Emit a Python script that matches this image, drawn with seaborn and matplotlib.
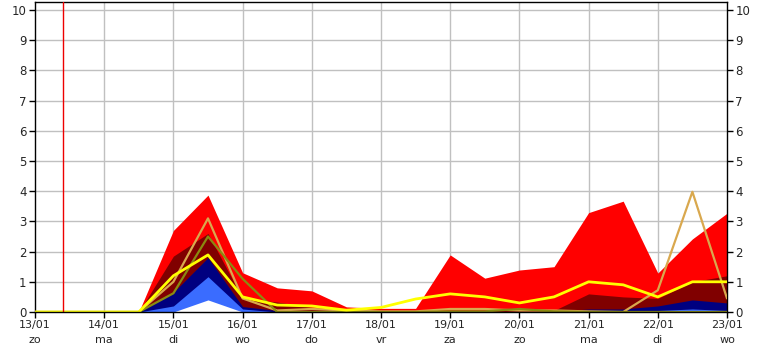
import numpy as np
import pandas as pd
import matplotlib
matplotlib.use("Agg")
import matplotlib.pyplot as plt
import seaborn as sns

# 12-hourly points from 13/01 00:00 to 23/01 00:00 (in days)
t = [i * 0.5 for i in range(21)]

red = [0, 0, 0, 0, 2.7, 3.87, 1.3, 0.8, 0.7, 0.17, 0.12, 0.12, 1.89, 1.12, 1.39, 1.5, 3.29, 3.67, 1.29, 2.42, 3.27]
maroon = [0, 0, 0, 0, 1.85, 2.6, 0.45, 0.33, 0.15, 0.05, 0.03, 0.03, 0.05, 0.05, 0.1, 0.05, 0.6, 0.5, 0.45, 1.0, 1.2]
navy = [0, 0, 0, 0, 0.65, 1.8, 0.18, 0.05, 0.02, 0, 0, 0, 0, 0, 0, 0.02, 0.1, 0.1, 0.2, 0.4, 0.3]
blue = [0, 0, 0, 0, 0.2, 1.17, 0.1, 0, 0, 0, 0, 0, 0, 0, 0, 0, 0, 0, 0.05, 0.1, 0.05]
white = [0, 0, 0, 0, 0, 0.4, 0, 0, 0, 0, 0, 0, 0, 0, 0, 0, 0, 0, 0, 0, 0]

yellow = [0, 0, 0, 0, 1.2, 1.89, 0.5, 0.23, 0.2, 0.06, 0.15, 0.43, 0.6, 0.5, 0.3, 0.5, 1.0, 0.9, 0.5, 1.0, 1.0]
tan = [0, 0, 0, 0, 1.0, 3.1, 0.45, 0.05, 0.1, 0.05, 0.02, 0.02, 0.1, 0.1, 0.05, 0.05, 0.02, 0, 0.72, 3.98, 0.45]
olive = [0, 0, 0, 0, 0.62, 2.5, 1.1, 0, 0, 0, 0, 0, 0.02, 0.02, 0.1, 0.02, 0, 0, 0, 0, 0]

day_labels = ["13/01", "14/01", "15/01", "16/01", "17/01", "18/01", "19/01", "20/01", "21/01", "22/01", "23/01"]
weekday_labels = ["zo", "ma", "di", "wo", "do", "vr", "za", "zo", "ma", "di", "wo"]
now_marker = 0.41

df = pd.DataFrame({"t": t, "red": red, "maroon": maroon, "navy": navy, "blue": blue,
                   "white": white, "yellow": yellow, "tan": tan, "olive": olive})

sns.set_style("white")
plt.rcParams["font.family"] = ["DejaVu Sans"]

fig = plt.figure(figsize=(7.62, 3.5), dpi=100)
ax = fig.add_axes([35 / 762, 38 / 350, 692 / 762, 310 / 350])

ax.set_xlim(0, 10)
ax.set_ylim(0, 10.265)

# grid
for d in range(1, 10):
    ax.axvline(d, color="#c0c0c0", lw=1, zorder=0)
for v in range(1, 11):
    ax.axhline(v, color="#c0c0c0", lw=1, zorder=0)

fills = [("red", "#ff0000"), ("maroon", "#800000"), ("navy", "#000080"),
         ("blue", "#3a6cff"), ("white", "#ffffff")]
for name, col in fills:
    ax.fill_between(df["t"], 0, df[name], color=col, lw=0, zorder=1)

sns.lineplot(data=df, x="t", y="tan", color="#d9a84e", lw=1.6, ax=ax, zorder=3)
sns.lineplot(data=df, x="t", y="olive", color="#8a8a10", lw=1.6, ax=ax, zorder=3)
sns.lineplot(data=df, x="t", y="yellow", color="#ffff00", lw=2.0, ax=ax, zorder=4)

ax.axvline(now_marker, color="#ee0000", lw=1, zorder=5)

ax.set_xticks(range(11))
ax.set_xticklabels([f"{a}\n{b}" for a, b in zip(day_labels, weekday_labels)],
                   fontsize=8, linespacing=1.6)
ax.set_yticks(range(11))
ax.set_yticklabels([str(v) for v in range(11)], fontsize=8.5)
ax.tick_params(axis="both", direction="out", length=4, width=1, color="black",
               left=True, right=True, bottom=True, labelright=True, pad=2)
ax.set_xlabel("")
ax.set_ylabel("")
for s in ax.spines.values():
    s.set_color("black")
    s.set_linewidth(1)
    s.set_visible(True)
ax.spines["bottom"].set_zorder(6)

fig.savefig("out.png", dpi=100)
